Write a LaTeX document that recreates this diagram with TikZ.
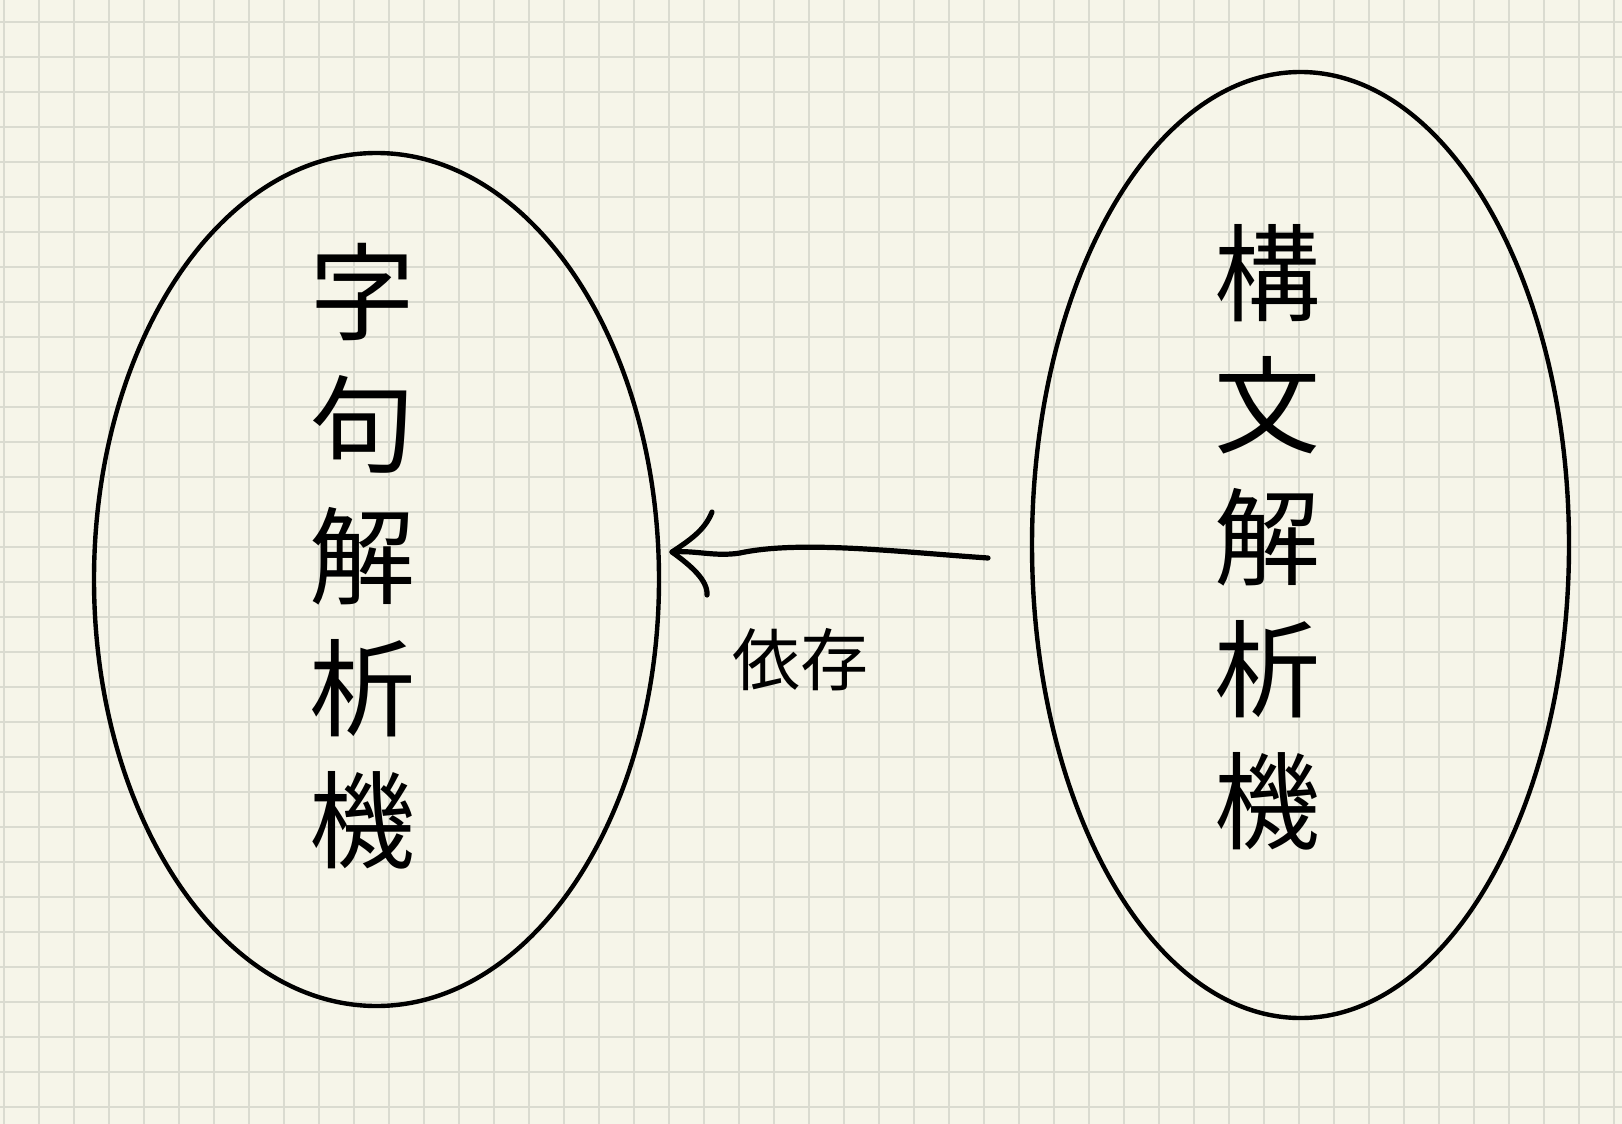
\documentclass[tikz,border=0pt]{standalone}
\usepackage{fontspec}
\newfontfamily\cjk{Noto Sans CJK JP}
\usetikzlibrary{shapes.geometric}
\definecolor{paper}{HTML}{F6F5E9}
\definecolor{gridc}{HTML}{DADBD0}
\tikzset{
  gridline/.style={draw=gridc, line width=1.3pt},
  bubble/.style={ellipse, draw=black, line width=4.4pt, inner sep=0pt},
  vtext/.style={align=center, inner sep=0pt, font=\cjk\fontsize{106}{132}\selectfont},
  lbl/.style={inner sep=0pt, font=\cjk\fontsize{68}{80}\selectfont},
  arrowline/.style={draw=black, line width=5.2pt, line cap=round, line join=round},
}
\begin{document}
\begin{tikzpicture}[x=1pt,y=-1pt]
\useasboundingbox (0,0) rectangle (1622,1124);
\fill[paper] (0,0) rectangle (1622,1124);
\foreach \i in {0,...,46} \draw[gridline] ({4+35*\i},0) -- ({4+35*\i},1124);
\foreach \j in {0,...,31} \draw[gridline] (0,{22+35*\j}) -- (1622,{22+35*\j});
\node[bubble, minimum width=565pt, minimum height=853pt] (lell) at (376.5,579.5) {};
\node[bubble, minimum width=537pt, minimum height=946pt] (rell) at (1300.5,545) {};
\node[vtext] (ltext) at (362,556) {字\\句\\解\\析\\機};
\node[vtext] (rtext) at (1267,537) {構\\文\\解\\析\\機};
\coordinate (astart) at (988,558);
\coordinate (atip) at (672,552);
\coordinate (bup) at (712,512);
\coordinate (blo) at (707,595);
\draw[arrowline] (astart) .. controls (900,552) and (800,540) .. (740,553) .. controls (715,557) and (695,550) .. (atip);
\draw[arrowline] (bup) .. controls (705,530) and (690,540) .. (atip) .. controls (690,565) and (708,580) .. (blo);
\node[lbl] (dep) at (800,660) {依存};
\end{tikzpicture}
\end{document}
